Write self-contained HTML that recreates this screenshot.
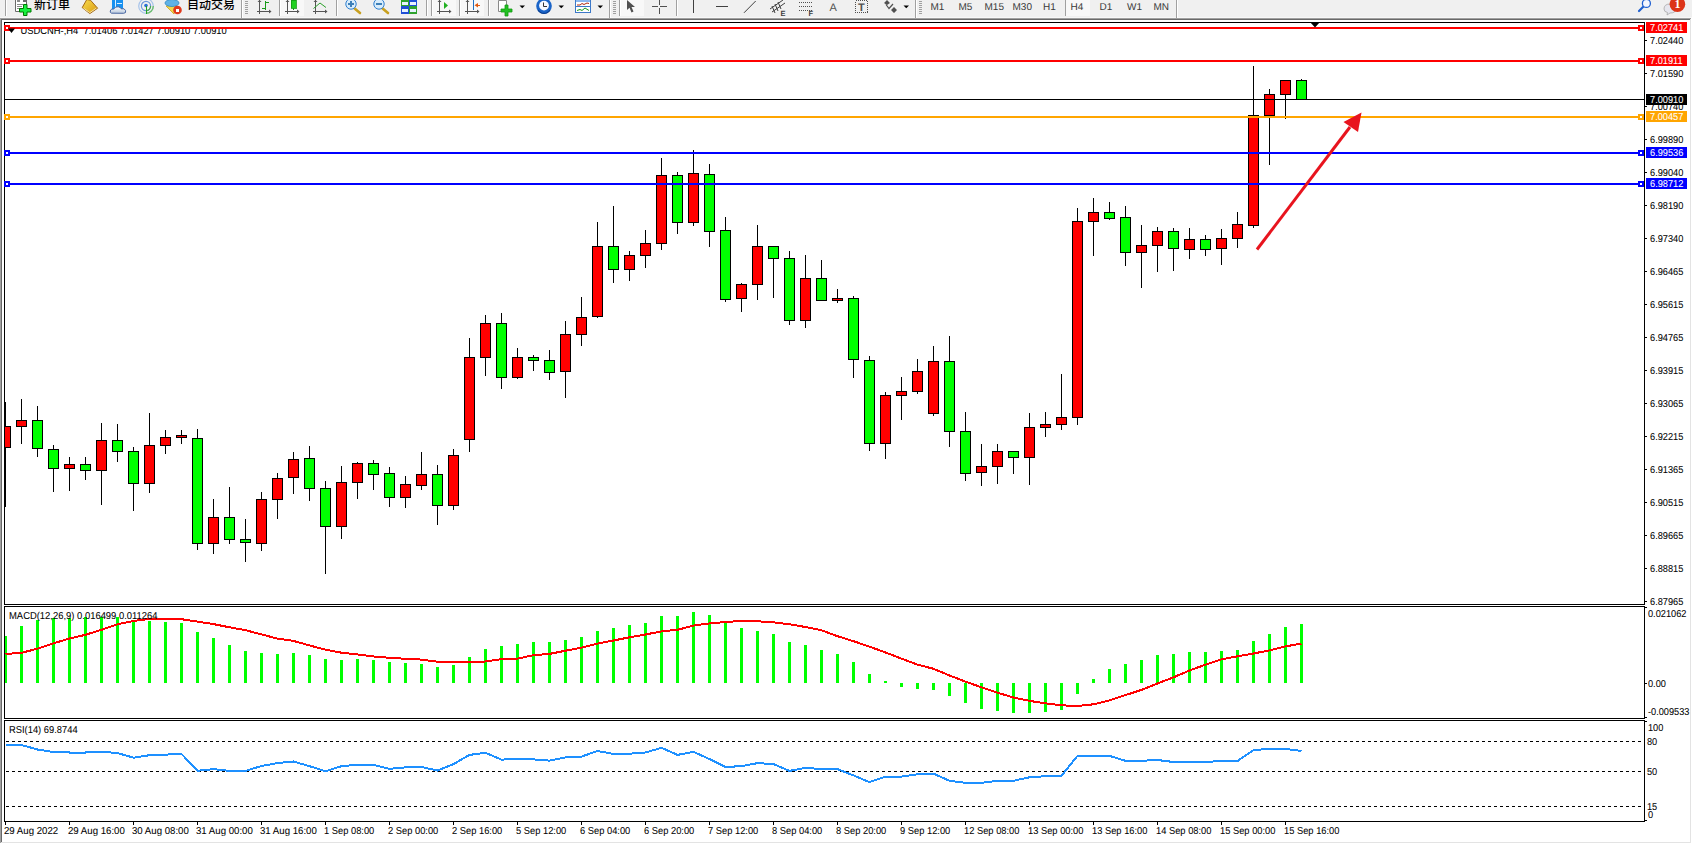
<!DOCTYPE html>
<html><head><meta charset="utf-8"><title>USDCNH-,H4</title>
<style>
html,body{margin:0;padding:0;background:#fff;}
body{width:1692px;height:844px;overflow:hidden;position:relative;}
#tb{position:absolute;left:0;top:0;width:1692px;height:18px;background:#f0f0f0;}
.cj{position:absolute;font-family:'Liberation Sans','Noto Sans CJK SC',sans-serif;font-size:12px;line-height:12px;color:#000;white-space:nowrap;font-weight:500;}
svg{position:absolute;left:0;top:0;}
svg text{white-space:pre;text-rendering:geometricPrecision;}
.tbs rect{shape-rendering:crispEdges;}
</style></head><body>
<div id="tb"></div>
<svg class="tbs" width="1692" height="18" viewBox="0 0 1692 18"><rect x="0" y="17" width="1692" height="1" fill="#f7f7f7"/><rect x="5" y="0" width="1" height="16" fill="#a0a0a0"/><rect x="6" y="0" width="1" height="16" fill="#ffffff"/><path d="M15.5 -2 V11.5 H26.5 V-2" fill="#fff" stroke="#6a6a6a"/><rect x="17" y="0" width="3" height="2" fill="#8a8a8a"/><rect x="23" y="-1" width="3" height="2.5" fill="#6a6a6a"/><rect x="17" y="4" width="6" height="1" fill="#8a8a8a"/><rect x="17" y="6" width="5" height="1" fill="#8a8a8a"/><rect x="17" y="8" width="3" height="1" fill="#8a8a8a"/><path d="M23.5 4.5 h3.5 v4 h4 v3.5 h-4 v3.5 h-3.5 v-3.5 h-4 v-3.5 h4 z" fill="#18f040" stroke="#007a00" stroke-width="1"/><defs><linearGradient id="gold" x1="0" y1="0" x2="1" y2="1"><stop offset="0" stop-color="#f8dc50"/><stop offset="1" stop-color="#d99a10"/></linearGradient><linearGradient id="cloud" x1="0" y1="0" x2="0" y2="1"><stop offset="0" stop-color="#ffffff"/><stop offset="1" stop-color="#b8c8dc"/></linearGradient></defs><path d="M86.8 -0.5 L82.2 7.6 L89.8 13.6 L97.6 8.2 L90.5 0.2 Z" fill="url(#gold)" stroke="#9a5a08" stroke-width="0.9"/><path d="M83.5 8.2 L89.8 12.6 L96.4 8.1" fill="none" stroke="#f5e6b0" stroke-width="0.9"/><rect x="112" y="0" width="11.3" height="9" fill="#1890f0"/><rect x="115" y="0" width="1" height="7" fill="#d8f0ff"/><rect x="117" y="3" width="4.5" height="1" fill="#d8f0ff"/><path d="M111.5 13.2 Q109.3 12.6 110.6 10 Q111.6 8.6 113.6 9.2 Q115 6.3 118.2 6.8 Q120.8 7.2 121.2 8.8 Q124.6 7.8 125.6 10.6 Q126.4 13.2 123.6 13.3 Z" fill="url(#cloud)" stroke="#3a5a9a" stroke-width="0.9"/><circle cx="146" cy="6" r="7.3" fill="none" stroke="#a8c4ea" stroke-width="1.2"/><circle cx="146" cy="6" r="4.6" fill="none" stroke="#6d98dc" stroke-width="1.2"/><path d="M153.3 6 A7.3 7.3 0 0 1 146 13.3" fill="none" stroke="#6cbf6c" stroke-width="1.4"/><path d="M150.6 6 A4.6 4.6 0 0 1 146 10.6" fill="none" stroke="#4aa84a" stroke-width="1.2"/><circle cx="146" cy="5.5" r="1.8" fill="#2b6fd6"/><rect x="146" y="6" width="1.4" height="8" fill="#22a022"/><path d="M166 6 L176 5 L174 14 Z" fill="#f3d54a" stroke="#c9a21c" stroke-width="0.8"/><ellipse cx="172" cy="3" rx="7" ry="3.5" fill="#5fb2e6" stroke="#2f86c2" stroke-width="0.8"/><circle cx="177.5" cy="10" r="4.3" fill="#e03a1c"/><rect x="176" y="8.5" width="3" height="3" fill="#fff"/><rect x="241" y="0" width="1" height="18" fill="#a0a0a0"/><rect x="242" y="0" width="1" height="18" fill="#ffffff"/><rect x="245" y="1" width="3" height="1" fill="#a0a0a0"/><rect x="245" y="3" width="3" height="1" fill="#a0a0a0"/><rect x="245" y="5" width="3" height="1" fill="#a0a0a0"/><rect x="245" y="7" width="3" height="1" fill="#a0a0a0"/><rect x="245" y="9" width="3" height="1" fill="#a0a0a0"/><rect x="245" y="11" width="3" height="1" fill="#a0a0a0"/><rect x="245" y="13" width="3" height="1" fill="#a0a0a0"/><rect x="259" y="0" width="1" height="14" fill="#555"/><rect x="257" y="11" width="12" height="1" fill="#555"/><path d="M269 9.5 L271.5 11.5 L269 13.5 Z" fill="#555"/><path d="M257.5 2 L259.5 0 L261.5 2 Z" fill="#555"/><rect x="265" y="1" width="1" height="9" fill="#1a9a1a"/><rect x="262" y="8" width="3" height="1" fill="#1a9a1a"/><rect x="266" y="2" width="3" height="1" fill="#1a9a1a"/><rect x="279" y="0" width="1" height="16" fill="#a0a0a0"/><rect x="280" y="0" width="1" height="16" fill="#ffffff"/><rect x="281" y="0" width="23" height="16" fill="#f8f8f8"/><rect x="287" y="0" width="1" height="14" fill="#555"/><rect x="285" y="11" width="12" height="1" fill="#555"/><path d="M297 9.5 L299.5 11.5 L297 13.5 Z" fill="#555"/><path d="M285.5 2 L287.5 0 L289.5 2 Z" fill="#555"/><rect x="291" y="0" width="5" height="8" fill="#22d022" stroke="#139813" stroke-width="0.8"/><rect x="293" y="8" width="1" height="2" fill="#139813"/><rect x="315" y="0" width="1" height="14" fill="#555"/><rect x="313" y="11" width="12" height="1" fill="#555"/><path d="M325 9.5 L327.5 11.5 L325 13.5 Z" fill="#555"/><path d="M313.5 2 L315.5 0 L317.5 2 Z" fill="#555"/><path d="M313.5 8.5 L320 3 L326 7.5" fill="none" stroke="#2aa02a" stroke-width="1"/><rect x="336" y="0" width="1" height="16" fill="#a0a0a0"/><rect x="337" y="0" width="1" height="16" fill="#ffffff"/><path d="M354 8 L360 13" stroke="#c8a020" stroke-width="2.6" stroke-linecap="round"/><circle cx="351" cy="4" r="5.2" fill="#d8ecfb" stroke="#2f7fd0" stroke-width="1"/><rect x="348" y="3" width="6" height="2" fill="#3d7fb8"/><rect x="350" y="1" width="2" height="6" fill="#3d7fb8"/><path d="M382 8 L388 13" stroke="#c8a020" stroke-width="2.6" stroke-linecap="round"/><circle cx="379" cy="4" r="5.2" fill="#d8ecfb" stroke="#2f7fd0" stroke-width="1"/><rect x="376" y="3" width="6" height="2" fill="#3d7fb8"/><rect x="401" y="0" width="8" height="6" fill="#2ea22e"/><rect x="409" y="0" width="8" height="6" fill="#1f4fd6"/><rect x="401" y="6" width="8" height="8" fill="#1f4fd6"/><rect x="409" y="6" width="8" height="8" fill="#2ea22e"/><rect x="402" y="2" width="6" height="3" fill="#e8f2ff"/><rect x="410" y="2" width="6" height="3" fill="#e8f2ff"/><rect x="402" y="9" width="6" height="3" fill="#e8f2ff"/><rect x="410" y="9" width="6" height="3" fill="#e8f2ff"/><rect x="426" y="0" width="1" height="16" fill="#a0a0a0"/><rect x="427" y="0" width="1" height="16" fill="#ffffff"/><rect x="431" y="0" width="1" height="16" fill="#a0a0a0"/><rect x="432" y="0" width="1" height="16" fill="#ffffff"/><rect x="433" y="0" width="23" height="16" fill="#f8f8f8"/><rect x="439" y="0" width="1" height="14" fill="#555"/><rect x="437" y="11" width="12" height="1" fill="#555"/><path d="M449 9.5 L451.5 11.5 L449 13.5 Z" fill="#555"/><path d="M437.5 2 L439.5 0 L441.5 2 Z" fill="#555"/><path d="M444 2 L448 5.5 L444 9 Z" fill="#22b022"/><rect x="459" y="0" width="1" height="16" fill="#a0a0a0"/><rect x="460" y="0" width="1" height="16" fill="#ffffff"/><rect x="461" y="0" width="23" height="16" fill="#f8f8f8"/><rect x="467" y="0" width="1" height="14" fill="#555"/><rect x="465" y="11" width="12" height="1" fill="#555"/><path d="M477 9.5 L479.5 11.5 L477 13.5 Z" fill="#555"/><path d="M465.5 2 L467.5 0 L469.5 2 Z" fill="#555"/><rect x="473" y="0" width="1" height="10" fill="#1f6fc0"/><path d="M474.5 5.3 L478 3 L478 7.6 Z" fill="#e05a10"/><rect x="477" y="5" width="3" height="1" fill="#e05a10"/><rect x="488" y="0" width="1" height="16" fill="#a0a0a0"/><rect x="489" y="0" width="1" height="16" fill="#ffffff"/><path d="M498.5 0.5 H506.5 V11.5 H498.5 Z" fill="#fff" stroke="#888"/><path d="M505 5 h3 v4 h4 v3 h-4 v4 h-3 v-4 h-4 v-3 h4 z" fill="#22c022" stroke="#129a12" stroke-width="0.8"/><path d="M519.5 5.5 L525.0 5.5 L522.25 8.3 Z" fill="#000"/><circle cx="544" cy="6" r="7.8" fill="#1a64c8"/><circle cx="544" cy="5.6" r="4.9" fill="#f4f8ff"/><path d="M538 10 A7 7 0 0 0 550 10" fill="none" stroke="#0b3f90" stroke-width="1.2"/><path d="M543.5 2.5 V6.5 H547" fill="none" stroke="#333" stroke-width="1"/><path d="M558.5 5.5 L564.0 5.5 L561.25 8.3 Z" fill="#000"/><rect x="575.5" y="0.5" width="15" height="12" fill="#fff" stroke="#3c78c8"/><rect x="576" y="0" width="14" height="2" fill="#8cb8f0"/><rect x="576" y="6" width="14" height="1" fill="#3c78c8"/><path d="M577 5 L580 5 L582 3.5 L584 4.5 L587 3 L589 3.5" fill="none" stroke="#b02a10" stroke-width="1"/><path d="M577 10.5 L580 9.5 L582 10.5 L585 8 L589 10.5" fill="none" stroke="#1a9a1a" stroke-width="1"/><path d="M597.5 5.5 L603.0 5.5 L600.25 8.3 Z" fill="#000"/><rect x="609" y="0" width="1" height="18" fill="#a0a0a0"/><rect x="610" y="0" width="1" height="18" fill="#ffffff"/><rect x="613" y="1" width="3" height="1" fill="#a0a0a0"/><rect x="613" y="3" width="3" height="1" fill="#a0a0a0"/><rect x="613" y="5" width="3" height="1" fill="#a0a0a0"/><rect x="613" y="7" width="3" height="1" fill="#a0a0a0"/><rect x="613" y="9" width="3" height="1" fill="#a0a0a0"/><rect x="613" y="11" width="3" height="1" fill="#a0a0a0"/><rect x="613" y="13" width="3" height="1" fill="#a0a0a0"/><rect x="619" y="0" width="1" height="16" fill="#a0a0a0"/><rect x="620" y="0" width="1" height="16" fill="#ffffff"/><rect x="621" y="0" width="23" height="16" fill="#f8f8f8"/><path d="M627 0 L627 10 L629.5 7.8 L631.5 12.5 L633.5 11.6 L631.5 7 L635 7 Z" fill="#505050"/><rect x="652" y="6" width="6" height="1" fill="#505050"/><rect x="660" y="6" width="7" height="1" fill="#505050"/><rect x="659" y="0" width="1" height="5" fill="#505050"/><rect x="659" y="8" width="1" height="6" fill="#505050"/><rect x="676" y="0" width="1" height="16" fill="#a0a0a0"/><rect x="677" y="0" width="1" height="16" fill="#ffffff"/><rect x="693" y="0" width="1" height="13" fill="#404040"/><rect x="716" y="6" width="12" height="1" fill="#404040"/><path d="M744 12.8 L755.7 1" stroke="#404040" stroke-width="1"/><path d="M770 9 L783 0 M772 12 L785 3 M772 6 L775 13 M775 4 L778 11 M778 2 L781 9" stroke="#404040" stroke-width="1"/><text x="780.5" y="15.5" font-family="'Liberation Sans', Arial, sans-serif" font-size="7.5" font-weight="bold" fill="#404040">E</text><line x1="799" y1="2.5" x2="812" y2="2.5" stroke="#505050" stroke-dasharray="1,1"/><line x1="799" y1="6.5" x2="812" y2="6.5" stroke="#505050" stroke-dasharray="1,1"/><line x1="799" y1="10.5" x2="812" y2="10.5" stroke="#505050" stroke-dasharray="1,1"/><text x="808.5" y="15.5" font-family="'Liberation Sans', Arial, sans-serif" font-size="7.5" font-weight="bold" fill="#404040">F</text><text x="829.5" y="11" font-family="'Liberation Sans', Arial, sans-serif" font-size="11" fill="#505050">A</text><rect x="855.5" y="0.5" width="12" height="12" fill="none" stroke="#505050" stroke-dasharray="1,1"/><text x="858" y="10.5" font-family="'Liberation Sans', Arial, sans-serif" font-size="11" font-weight="bold" fill="#505050">T</text><path d="M884 3 L887 0 L890 3 L887 5 Z M891 10 L894 7 L897 10 L894 13 Z" fill="#505050"/><path d="M886 4.5 L889 8.5 L893 4" fill="none" stroke="#505050" stroke-width="1.2"/><path d="M903.5 5.5 L909.0 5.5 L906.25 8.3 Z" fill="#000"/><rect x="915" y="0" width="1" height="18" fill="#a0a0a0"/><rect x="916" y="0" width="1" height="18" fill="#ffffff"/><rect x="919" y="1" width="3" height="1" fill="#a0a0a0"/><rect x="919" y="3" width="3" height="1" fill="#a0a0a0"/><rect x="919" y="5" width="3" height="1" fill="#a0a0a0"/><rect x="919" y="7" width="3" height="1" fill="#a0a0a0"/><rect x="919" y="9" width="3" height="1" fill="#a0a0a0"/><rect x="919" y="11" width="3" height="1" fill="#a0a0a0"/><rect x="919" y="13" width="3" height="1" fill="#a0a0a0"/><rect x="1065" y="0" width="1" height="16" fill="#a0a0a0"/><rect x="1066" y="0" width="1" height="16" fill="#ffffff"/><rect x="1066" y="0" width="24" height="16" fill="#f8f8f8"/><text x="930.5" y="10" font-family="'Liberation Sans', Arial, sans-serif" font-size="10" fill="#3a3a3a">M1</text><text x="958.5" y="10" font-family="'Liberation Sans', Arial, sans-serif" font-size="10" fill="#3a3a3a">M5</text><text x="984.5" y="10" font-family="'Liberation Sans', Arial, sans-serif" font-size="10" fill="#3a3a3a">M15</text><text x="1012.5" y="10" font-family="'Liberation Sans', Arial, sans-serif" font-size="10" fill="#3a3a3a">M30</text><text x="1043" y="10" font-family="'Liberation Sans', Arial, sans-serif" font-size="10" fill="#3a3a3a">H1</text><text x="1070.5" y="10" font-family="'Liberation Sans', Arial, sans-serif" font-size="10" fill="#3a3a3a">H4</text><text x="1099.5" y="10" font-family="'Liberation Sans', Arial, sans-serif" font-size="10" fill="#3a3a3a">D1</text><text x="1127" y="10" font-family="'Liberation Sans', Arial, sans-serif" font-size="10" fill="#3a3a3a">W1</text><text x="1153.5" y="10" font-family="'Liberation Sans', Arial, sans-serif" font-size="10" fill="#3a3a3a">MN</text><rect x="1176" y="0" width="1" height="18" fill="#a0a0a0"/><rect x="1177" y="0" width="1" height="18" fill="#ffffff"/><path d="M1643.5 6.5 L1639 11" stroke="#2060d0" stroke-width="2.2" stroke-linecap="round"/><circle cx="1646.4" cy="3.4" r="4" fill="#f4f6ff" stroke="#2060d0" stroke-width="1.3"/><path d="M1664 9 Q1664 4 1670 4 Q1676 4 1676 9 Q1676 13 1670 13 L1667 15 L1667.5 12.5 Q1664 12 1664 9 Z" fill="#e6e6ee" stroke="#a8a8a8" stroke-width="0.8"/><circle cx="1677.4" cy="4.2" r="7.8" fill="#dc3418"/><text x="1677.4" y="8" text-anchor="middle" font-family="'Liberation Serif', serif" font-size="12" font-weight="bold" fill="#fff">1</text></svg>
<div class="cj" style="left:34px;top:-1px;">新订单</div>
<div class="cj" style="left:187px;top:-1px;">自动交易</div>

<svg width="1692" height="844" viewBox="0 0 1692 844" shape-rendering="crispEdges" style="top:0;left:0"><rect x="0" y="18" width="1691" height="1" fill="#a0a0a0"/><rect x="0" y="18" width="1" height="825" fill="#a0a0a0"/><rect x="1" y="19" width="1689" height="1" fill="#696969"/><rect x="1" y="19" width="1" height="823" fill="#696969"/><rect x="1690" y="19" width="1" height="824" fill="#e3e3e3"/><rect x="1" y="842" width="1690" height="1" fill="#e3e3e3"/><rect x="1691" y="18" width="1" height="826" fill="#ffffff"/><rect x="0" y="843" width="1692" height="1" fill="#ffffff"/><defs><clipPath id="cm"><rect x="5" y="23" width="1639" height="581"/></clipPath><clipPath id="cmacd"><rect x="5" y="607" width="1639" height="111"/></clipPath><clipPath id="crsi"><rect x="5" y="721" width="1639" height="100"/></clipPath></defs><g clip-path="url(#cm)"><rect x="5" y="402" width="1" height="105" fill="#000"/><rect x="0" y="426" width="11" height="22" fill="#000"/><rect x="1" y="427" width="9" height="20" fill="#ff0000"/><rect x="21" y="399" width="1" height="45" fill="#000"/><rect x="16" y="420" width="11" height="7" fill="#000"/><rect x="17" y="421" width="9" height="5" fill="#ff0000"/><rect x="37" y="406" width="1" height="51" fill="#000"/><rect x="32" y="420" width="11" height="29" fill="#000"/><rect x="33" y="421" width="9" height="27" fill="#00ff00"/><rect x="53" y="445" width="1" height="47" fill="#000"/><rect x="48" y="449" width="11" height="20" fill="#000"/><rect x="49" y="450" width="9" height="18" fill="#00ff00"/><rect x="69" y="457" width="1" height="34" fill="#000"/><rect x="64" y="464" width="11" height="5" fill="#000"/><rect x="65" y="465" width="9" height="3" fill="#ff0000"/><rect x="85" y="457" width="1" height="23" fill="#000"/><rect x="80" y="464" width="11" height="7" fill="#000"/><rect x="81" y="465" width="9" height="5" fill="#00ff00"/><rect x="101" y="423" width="1" height="82" fill="#000"/><rect x="96" y="440" width="11" height="31" fill="#000"/><rect x="97" y="441" width="9" height="29" fill="#ff0000"/><rect x="117" y="424" width="1" height="38" fill="#000"/><rect x="112" y="440" width="11" height="12" fill="#000"/><rect x="113" y="441" width="9" height="10" fill="#00ff00"/><rect x="133" y="447" width="1" height="64" fill="#000"/><rect x="128" y="451" width="11" height="33" fill="#000"/><rect x="129" y="452" width="9" height="31" fill="#00ff00"/><rect x="149" y="413" width="1" height="80" fill="#000"/><rect x="144" y="445" width="11" height="39" fill="#000"/><rect x="145" y="446" width="9" height="37" fill="#ff0000"/><rect x="165" y="430" width="1" height="24" fill="#000"/><rect x="160" y="437" width="11" height="9" fill="#000"/><rect x="161" y="438" width="9" height="7" fill="#ff0000"/><rect x="181" y="430" width="1" height="14" fill="#000"/><rect x="176" y="435" width="11" height="3" fill="#000"/><rect x="177" y="436" width="9" height="1" fill="#ff0000"/><rect x="197" y="429" width="1" height="121" fill="#000"/><rect x="192" y="438" width="11" height="106" fill="#000"/><rect x="193" y="439" width="9" height="104" fill="#00ff00"/><rect x="213" y="499" width="1" height="55" fill="#000"/><rect x="208" y="517" width="11" height="27" fill="#000"/><rect x="209" y="518" width="9" height="25" fill="#ff0000"/><rect x="229" y="487" width="1" height="57" fill="#000"/><rect x="224" y="517" width="11" height="23" fill="#000"/><rect x="225" y="518" width="9" height="21" fill="#00ff00"/><rect x="245" y="519" width="1" height="43" fill="#000"/><rect x="240" y="539" width="11" height="4" fill="#000"/><rect x="241" y="540" width="9" height="2" fill="#00ff00"/><rect x="261" y="492" width="1" height="59" fill="#000"/><rect x="256" y="499" width="11" height="45" fill="#000"/><rect x="257" y="500" width="9" height="43" fill="#ff0000"/><rect x="277" y="473" width="1" height="46" fill="#000"/><rect x="272" y="478" width="11" height="22" fill="#000"/><rect x="273" y="479" width="9" height="20" fill="#ff0000"/><rect x="293" y="452" width="1" height="42" fill="#000"/><rect x="288" y="459" width="11" height="19" fill="#000"/><rect x="289" y="460" width="9" height="17" fill="#ff0000"/><rect x="309" y="446" width="1" height="55" fill="#000"/><rect x="304" y="458" width="11" height="31" fill="#000"/><rect x="305" y="459" width="9" height="29" fill="#00ff00"/><rect x="325" y="481" width="1" height="93" fill="#000"/><rect x="320" y="488" width="11" height="39" fill="#000"/><rect x="321" y="489" width="9" height="37" fill="#00ff00"/><rect x="341" y="466" width="1" height="73" fill="#000"/><rect x="336" y="482" width="11" height="45" fill="#000"/><rect x="337" y="483" width="9" height="43" fill="#ff0000"/><rect x="357" y="462" width="1" height="37" fill="#000"/><rect x="352" y="463" width="11" height="20" fill="#000"/><rect x="353" y="464" width="9" height="18" fill="#ff0000"/><rect x="373" y="460" width="1" height="30" fill="#000"/><rect x="368" y="463" width="11" height="12" fill="#000"/><rect x="369" y="464" width="9" height="10" fill="#00ff00"/><rect x="389" y="467" width="1" height="40" fill="#000"/><rect x="384" y="473" width="11" height="25" fill="#000"/><rect x="385" y="474" width="9" height="23" fill="#00ff00"/><rect x="405" y="476" width="1" height="32" fill="#000"/><rect x="400" y="484" width="11" height="14" fill="#000"/><rect x="401" y="485" width="9" height="12" fill="#ff0000"/><rect x="421" y="452" width="1" height="38" fill="#000"/><rect x="416" y="474" width="11" height="12" fill="#000"/><rect x="417" y="475" width="9" height="10" fill="#ff0000"/><rect x="437" y="465" width="1" height="60" fill="#000"/><rect x="432" y="474" width="11" height="32" fill="#000"/><rect x="433" y="475" width="9" height="30" fill="#00ff00"/><rect x="453" y="449" width="1" height="61" fill="#000"/><rect x="448" y="455" width="11" height="51" fill="#000"/><rect x="449" y="456" width="9" height="49" fill="#ff0000"/><rect x="469" y="338" width="1" height="114" fill="#000"/><rect x="464" y="357" width="11" height="83" fill="#000"/><rect x="465" y="358" width="9" height="81" fill="#ff0000"/><rect x="485" y="315" width="1" height="61" fill="#000"/><rect x="480" y="323" width="11" height="35" fill="#000"/><rect x="481" y="324" width="9" height="33" fill="#ff0000"/><rect x="501" y="313" width="1" height="76" fill="#000"/><rect x="496" y="323" width="11" height="55" fill="#000"/><rect x="497" y="324" width="9" height="53" fill="#00ff00"/><rect x="517" y="348" width="1" height="31" fill="#000"/><rect x="512" y="357" width="11" height="21" fill="#000"/><rect x="513" y="358" width="9" height="19" fill="#ff0000"/><rect x="533" y="355" width="1" height="16" fill="#000"/><rect x="528" y="357" width="11" height="4" fill="#000"/><rect x="529" y="358" width="9" height="2" fill="#00ff00"/><rect x="549" y="350" width="1" height="30" fill="#000"/><rect x="544" y="360" width="11" height="13" fill="#000"/><rect x="545" y="361" width="9" height="11" fill="#00ff00"/><rect x="565" y="321" width="1" height="77" fill="#000"/><rect x="560" y="334" width="11" height="38" fill="#000"/><rect x="561" y="335" width="9" height="36" fill="#ff0000"/><rect x="581" y="297" width="1" height="49" fill="#000"/><rect x="576" y="317" width="11" height="18" fill="#000"/><rect x="577" y="318" width="9" height="16" fill="#ff0000"/><rect x="597" y="222" width="1" height="96" fill="#000"/><rect x="592" y="246" width="11" height="71" fill="#000"/><rect x="593" y="247" width="9" height="69" fill="#ff0000"/><rect x="613" y="206" width="1" height="77" fill="#000"/><rect x="608" y="246" width="11" height="24" fill="#000"/><rect x="609" y="247" width="9" height="22" fill="#00ff00"/><rect x="629" y="251" width="1" height="30" fill="#000"/><rect x="624" y="255" width="11" height="15" fill="#000"/><rect x="625" y="256" width="9" height="13" fill="#ff0000"/><rect x="645" y="230" width="1" height="38" fill="#000"/><rect x="640" y="243" width="11" height="13" fill="#000"/><rect x="641" y="244" width="9" height="11" fill="#ff0000"/><rect x="661" y="158" width="1" height="92" fill="#000"/><rect x="656" y="175" width="11" height="69" fill="#000"/><rect x="657" y="176" width="9" height="67" fill="#ff0000"/><rect x="677" y="172" width="1" height="62" fill="#000"/><rect x="672" y="175" width="11" height="48" fill="#000"/><rect x="673" y="176" width="9" height="46" fill="#00ff00"/><rect x="693" y="150" width="1" height="76" fill="#000"/><rect x="688" y="173" width="11" height="50" fill="#000"/><rect x="689" y="174" width="9" height="48" fill="#ff0000"/><rect x="709" y="164" width="1" height="83" fill="#000"/><rect x="704" y="174" width="11" height="58" fill="#000"/><rect x="705" y="175" width="9" height="56" fill="#00ff00"/><rect x="725" y="217" width="1" height="85" fill="#000"/><rect x="720" y="230" width="11" height="70" fill="#000"/><rect x="721" y="231" width="9" height="68" fill="#00ff00"/><rect x="741" y="283" width="1" height="29" fill="#000"/><rect x="736" y="284" width="11" height="15" fill="#000"/><rect x="737" y="285" width="9" height="13" fill="#ff0000"/><rect x="757" y="225" width="1" height="75" fill="#000"/><rect x="752" y="246" width="11" height="39" fill="#000"/><rect x="753" y="247" width="9" height="37" fill="#ff0000"/><rect x="773" y="246" width="1" height="52" fill="#000"/><rect x="768" y="246" width="11" height="13" fill="#000"/><rect x="769" y="247" width="9" height="11" fill="#00ff00"/><rect x="789" y="251" width="1" height="74" fill="#000"/><rect x="784" y="258" width="11" height="63" fill="#000"/><rect x="785" y="259" width="9" height="61" fill="#00ff00"/><rect x="805" y="255" width="1" height="73" fill="#000"/><rect x="800" y="278" width="11" height="43" fill="#000"/><rect x="801" y="279" width="9" height="41" fill="#ff0000"/><rect x="821" y="260" width="1" height="41" fill="#000"/><rect x="816" y="278" width="11" height="23" fill="#000"/><rect x="817" y="279" width="9" height="21" fill="#00ff00"/><rect x="837" y="289" width="1" height="14" fill="#000"/><rect x="832" y="298" width="11" height="3" fill="#000"/><rect x="833" y="299" width="9" height="1" fill="#ff0000"/><rect x="853" y="296" width="1" height="82" fill="#000"/><rect x="848" y="298" width="11" height="62" fill="#000"/><rect x="849" y="299" width="9" height="60" fill="#00ff00"/><rect x="869" y="356" width="1" height="95" fill="#000"/><rect x="864" y="360" width="11" height="84" fill="#000"/><rect x="865" y="361" width="9" height="82" fill="#00ff00"/><rect x="885" y="392" width="1" height="67" fill="#000"/><rect x="880" y="395" width="11" height="49" fill="#000"/><rect x="881" y="396" width="9" height="47" fill="#ff0000"/><rect x="901" y="377" width="1" height="43" fill="#000"/><rect x="896" y="391" width="11" height="5" fill="#000"/><rect x="897" y="392" width="9" height="3" fill="#ff0000"/><rect x="917" y="359" width="1" height="35" fill="#000"/><rect x="912" y="371" width="11" height="21" fill="#000"/><rect x="913" y="372" width="9" height="19" fill="#ff0000"/><rect x="933" y="346" width="1" height="70" fill="#000"/><rect x="928" y="361" width="11" height="53" fill="#000"/><rect x="929" y="362" width="9" height="51" fill="#ff0000"/><rect x="949" y="336" width="1" height="111" fill="#000"/><rect x="944" y="361" width="11" height="71" fill="#000"/><rect x="945" y="362" width="9" height="69" fill="#00ff00"/><rect x="965" y="412" width="1" height="69" fill="#000"/><rect x="960" y="431" width="11" height="43" fill="#000"/><rect x="961" y="432" width="9" height="41" fill="#00ff00"/><rect x="981" y="444" width="1" height="42" fill="#000"/><rect x="976" y="466" width="11" height="7" fill="#000"/><rect x="977" y="467" width="9" height="5" fill="#ff0000"/><rect x="997" y="444" width="1" height="40" fill="#000"/><rect x="992" y="451" width="11" height="16" fill="#000"/><rect x="993" y="452" width="9" height="14" fill="#ff0000"/><rect x="1013" y="451" width="1" height="23" fill="#000"/><rect x="1008" y="451" width="11" height="7" fill="#000"/><rect x="1009" y="452" width="9" height="5" fill="#00ff00"/><rect x="1029" y="413" width="1" height="72" fill="#000"/><rect x="1024" y="427" width="11" height="31" fill="#000"/><rect x="1025" y="428" width="9" height="29" fill="#ff0000"/><rect x="1045" y="412" width="1" height="25" fill="#000"/><rect x="1040" y="424" width="11" height="4" fill="#000"/><rect x="1041" y="425" width="9" height="2" fill="#ff0000"/><rect x="1061" y="374" width="1" height="56" fill="#000"/><rect x="1056" y="417" width="11" height="8" fill="#000"/><rect x="1057" y="418" width="9" height="6" fill="#ff0000"/><rect x="1077" y="208" width="1" height="217" fill="#000"/><rect x="1072" y="221" width="11" height="197" fill="#000"/><rect x="1073" y="222" width="9" height="195" fill="#ff0000"/><rect x="1093" y="198" width="1" height="58" fill="#000"/><rect x="1088" y="212" width="11" height="10" fill="#000"/><rect x="1089" y="213" width="9" height="8" fill="#ff0000"/><rect x="1109" y="202" width="1" height="18" fill="#000"/><rect x="1104" y="212" width="11" height="7" fill="#000"/><rect x="1105" y="213" width="9" height="5" fill="#00ff00"/><rect x="1125" y="206" width="1" height="60" fill="#000"/><rect x="1120" y="217" width="11" height="36" fill="#000"/><rect x="1121" y="218" width="9" height="34" fill="#00ff00"/><rect x="1141" y="225" width="1" height="63" fill="#000"/><rect x="1136" y="245" width="11" height="8" fill="#000"/><rect x="1137" y="246" width="9" height="6" fill="#ff0000"/><rect x="1157" y="227" width="1" height="45" fill="#000"/><rect x="1152" y="231" width="11" height="15" fill="#000"/><rect x="1153" y="232" width="9" height="13" fill="#ff0000"/><rect x="1173" y="228" width="1" height="43" fill="#000"/><rect x="1168" y="231" width="11" height="18" fill="#000"/><rect x="1169" y="232" width="9" height="16" fill="#00ff00"/><rect x="1189" y="228" width="1" height="31" fill="#000"/><rect x="1184" y="239" width="11" height="11" fill="#000"/><rect x="1185" y="240" width="9" height="9" fill="#ff0000"/><rect x="1205" y="235" width="1" height="21" fill="#000"/><rect x="1200" y="239" width="11" height="11" fill="#000"/><rect x="1201" y="240" width="9" height="9" fill="#00ff00"/><rect x="1221" y="229" width="1" height="36" fill="#000"/><rect x="1216" y="238" width="11" height="11" fill="#000"/><rect x="1217" y="239" width="9" height="9" fill="#ff0000"/><rect x="1237" y="212" width="1" height="36" fill="#000"/><rect x="1232" y="224" width="11" height="15" fill="#000"/><rect x="1233" y="225" width="9" height="13" fill="#ff0000"/><rect x="1253" y="66" width="1" height="162" fill="#000"/><rect x="1248" y="115" width="11" height="111" fill="#000"/><rect x="1249" y="116" width="9" height="109" fill="#ff0000"/><rect x="1269" y="89" width="1" height="76" fill="#000"/><rect x="1264" y="94" width="11" height="22" fill="#000"/><rect x="1265" y="95" width="9" height="20" fill="#ff0000"/><rect x="1285" y="80" width="1" height="39" fill="#000"/><rect x="1280" y="80" width="11" height="15" fill="#000"/><rect x="1281" y="81" width="9" height="13" fill="#ff0000"/><rect x="1301" y="79" width="1" height="21" fill="#000"/><rect x="1296" y="80" width="11" height="20" fill="#000"/><rect x="1297" y="81" width="9" height="18" fill="#00ff00"/></g><g font-family="'Liberation Sans', Arial, sans-serif" font-size="10"><text transform="translate(20.5,34) scale(0.937,1)" fill="#000" stroke="#000" stroke-width="0.06">USDCNH-,H4  7.01406 7.01427 7.00910 7.00910</text></g><rect x="5" y="99" width="1639" height="1" fill="#000"/><rect x="5" y="27" width="1639" height="2" fill="#ff0000"/><rect x="5" y="60" width="1639" height="2" fill="#ff0000"/><rect x="5" y="116" width="1639" height="2" fill="#ffa500"/><rect x="5" y="152" width="1639" height="2" fill="#0000ff"/><rect x="5" y="183" width="1639" height="2" fill="#0000ff"/><rect x="4" y="22" width="1641" height="1" fill="#000"/><rect x="4" y="604" width="1641" height="1" fill="#000"/><rect x="4" y="22" width="1" height="583" fill="#000"/><rect x="1644" y="22" width="1" height="583" fill="#000"/><rect x="4" y="606" width="1641" height="1" fill="#000"/><rect x="4" y="718" width="1641" height="1" fill="#000"/><rect x="4" y="606" width="1" height="113" fill="#000"/><rect x="1644" y="606" width="1" height="113" fill="#000"/><rect x="4" y="720" width="1641" height="1" fill="#000"/><rect x="4" y="821" width="1641" height="1" fill="#000"/><rect x="4" y="720" width="1" height="102" fill="#000"/><rect x="1644" y="720" width="1" height="102" fill="#000"/><rect x="4" y="25" width="6" height="6" fill="#ff0000"/><rect x="6" y="27" width="2" height="2" fill="#fff"/><rect x="1638" y="25" width="6" height="6" fill="#ff0000"/><rect x="1640" y="27" width="2" height="2" fill="#fff"/><rect x="4" y="58" width="6" height="6" fill="#ff0000"/><rect x="6" y="60" width="2" height="2" fill="#fff"/><rect x="1638" y="58" width="6" height="6" fill="#ff0000"/><rect x="1640" y="60" width="2" height="2" fill="#fff"/><rect x="4" y="114" width="6" height="6" fill="#ffa500"/><rect x="6" y="116" width="2" height="2" fill="#fff"/><rect x="1638" y="114" width="6" height="6" fill="#ffa500"/><rect x="1640" y="116" width="2" height="2" fill="#fff"/><rect x="4" y="150" width="6" height="6" fill="#0000ff"/><rect x="6" y="152" width="2" height="2" fill="#fff"/><rect x="1638" y="150" width="6" height="6" fill="#0000ff"/><rect x="1640" y="152" width="2" height="2" fill="#fff"/><rect x="4" y="181" width="6" height="6" fill="#0000ff"/><rect x="6" y="183" width="2" height="2" fill="#fff"/><rect x="1638" y="181" width="6" height="6" fill="#0000ff"/><rect x="1640" y="183" width="2" height="2" fill="#fff"/><path d="M1310 22 L1320 22 L1315 27.5 Z" fill="#000" shape-rendering="geometricPrecision"/><g clip-path="url(#cmacd)"><rect x="4" y="636" width="3" height="47" fill="#00ff00"/><rect x="20" y="626" width="3" height="57" fill="#00ff00"/><rect x="36" y="620" width="3" height="63" fill="#00ff00"/><rect x="52" y="618" width="3" height="65" fill="#00ff00"/><rect x="68" y="618" width="3" height="65" fill="#00ff00"/><rect x="84" y="617" width="3" height="66" fill="#00ff00"/><rect x="100" y="617" width="3" height="66" fill="#00ff00"/><rect x="116" y="617" width="3" height="66" fill="#00ff00"/><rect x="132" y="620" width="3" height="63" fill="#00ff00"/><rect x="148" y="621" width="3" height="62" fill="#00ff00"/><rect x="164" y="622" width="3" height="61" fill="#00ff00"/><rect x="180" y="623" width="3" height="60" fill="#00ff00"/><rect x="196" y="632" width="3" height="51" fill="#00ff00"/><rect x="212" y="638" width="3" height="45" fill="#00ff00"/><rect x="228" y="645" width="3" height="38" fill="#00ff00"/><rect x="244" y="651" width="3" height="32" fill="#00ff00"/><rect x="260" y="653" width="3" height="30" fill="#00ff00"/><rect x="276" y="654" width="3" height="29" fill="#00ff00"/><rect x="292" y="653" width="3" height="30" fill="#00ff00"/><rect x="308" y="655" width="3" height="28" fill="#00ff00"/><rect x="324" y="659" width="3" height="24" fill="#00ff00"/><rect x="340" y="660" width="3" height="23" fill="#00ff00"/><rect x="356" y="659" width="3" height="24" fill="#00ff00"/><rect x="372" y="660" width="3" height="23" fill="#00ff00"/><rect x="388" y="662" width="3" height="21" fill="#00ff00"/><rect x="404" y="663" width="3" height="20" fill="#00ff00"/><rect x="420" y="664" width="3" height="19" fill="#00ff00"/><rect x="436" y="667" width="3" height="16" fill="#00ff00"/><rect x="452" y="665" width="3" height="18" fill="#00ff00"/><rect x="468" y="657" width="3" height="26" fill="#00ff00"/><rect x="484" y="649" width="3" height="34" fill="#00ff00"/><rect x="500" y="646" width="3" height="37" fill="#00ff00"/><rect x="516" y="644" width="3" height="39" fill="#00ff00"/><rect x="532" y="642" width="3" height="41" fill="#00ff00"/><rect x="548" y="642" width="3" height="41" fill="#00ff00"/><rect x="564" y="640" width="3" height="43" fill="#00ff00"/><rect x="580" y="637" width="3" height="46" fill="#00ff00"/><rect x="596" y="631" width="3" height="52" fill="#00ff00"/><rect x="612" y="628" width="3" height="55" fill="#00ff00"/><rect x="628" y="625" width="3" height="58" fill="#00ff00"/><rect x="644" y="623" width="3" height="60" fill="#00ff00"/><rect x="660" y="616" width="3" height="67" fill="#00ff00"/><rect x="676" y="616" width="3" height="67" fill="#00ff00"/><rect x="692" y="612" width="3" height="71" fill="#00ff00"/><rect x="708" y="615" width="3" height="68" fill="#00ff00"/><rect x="724" y="623" width="3" height="60" fill="#00ff00"/><rect x="740" y="628" width="3" height="55" fill="#00ff00"/><rect x="756" y="631" width="3" height="52" fill="#00ff00"/><rect x="772" y="634" width="3" height="49" fill="#00ff00"/><rect x="788" y="642" width="3" height="41" fill="#00ff00"/><rect x="804" y="645" width="3" height="38" fill="#00ff00"/><rect x="820" y="650" width="3" height="33" fill="#00ff00"/><rect x="836" y="654" width="3" height="29" fill="#00ff00"/><rect x="852" y="662" width="3" height="21" fill="#00ff00"/><rect x="868" y="674" width="3" height="9" fill="#00ff00"/><rect x="884" y="681" width="3" height="2" fill="#00ff00"/><rect x="900" y="683" width="3" height="4" fill="#00ff00"/><rect x="916" y="683" width="3" height="6" fill="#00ff00"/><rect x="932" y="683" width="3" height="7" fill="#00ff00"/><rect x="948" y="683" width="3" height="13" fill="#00ff00"/><rect x="964" y="683" width="3" height="20" fill="#00ff00"/><rect x="980" y="683" width="3" height="26" fill="#00ff00"/><rect x="996" y="683" width="3" height="28" fill="#00ff00"/><rect x="1012" y="683" width="3" height="30" fill="#00ff00"/><rect x="1028" y="683" width="3" height="30" fill="#00ff00"/><rect x="1044" y="683" width="3" height="29" fill="#00ff00"/><rect x="1060" y="683" width="3" height="27" fill="#00ff00"/><rect x="1076" y="683" width="3" height="11" fill="#00ff00"/><rect x="1092" y="679" width="3" height="4" fill="#00ff00"/><rect x="1108" y="669" width="3" height="14" fill="#00ff00"/><rect x="1124" y="664" width="3" height="19" fill="#00ff00"/><rect x="1140" y="660" width="3" height="23" fill="#00ff00"/><rect x="1156" y="655" width="3" height="28" fill="#00ff00"/><rect x="1172" y="654" width="3" height="29" fill="#00ff00"/><rect x="1188" y="652" width="3" height="31" fill="#00ff00"/><rect x="1204" y="652" width="3" height="31" fill="#00ff00"/><rect x="1220" y="651" width="3" height="32" fill="#00ff00"/><rect x="1236" y="650" width="3" height="33" fill="#00ff00"/><rect x="1252" y="641" width="3" height="42" fill="#00ff00"/><rect x="1268" y="634" width="3" height="49" fill="#00ff00"/><rect x="1284" y="627" width="3" height="56" fill="#00ff00"/><rect x="1300" y="624" width="3" height="59" fill="#00ff00"/><polyline points="5.5,654.0 21.5,652.8 37.5,648.7 53.5,643.3 69.5,638.5 85.5,634.8 101.5,629.8 117.5,624.3 133.5,621.0 149.5,618.9 165.5,618.9 181.5,619.2 197.5,621.6 213.5,624.1 229.5,627.3 245.5,630.2 261.5,634.4 277.5,638.6 293.5,640.9 309.5,645.4 325.5,649.7 341.5,652.7 357.5,654.4 373.5,656.5 389.5,657.8 405.5,658.8 421.5,659.6 437.5,661.7 453.5,661.7 469.5,662.0 485.5,661.5 501.5,659.2 517.5,658.6 533.5,655.2 549.5,653.9 565.5,650.7 581.5,647.6 597.5,643.6 613.5,640.5 629.5,637.3 645.5,634.5 661.5,631.4 677.5,629.8 693.5,625.6 709.5,623.4 725.5,622.0 741.5,620.9 757.5,621.3 773.5,622.3 789.5,624.3 805.5,627.0 821.5,630.2 837.5,636.2 853.5,641.2 869.5,646.6 885.5,652.5 901.5,658.6 917.5,664.6 933.5,668.8 949.5,675.5 965.5,681.6 981.5,687.3 997.5,692.7 1013.5,697.5 1029.5,700.9 1045.5,703.3 1061.5,705.3 1077.5,706.0 1093.5,704.3 1109.5,700.3 1125.5,695.1 1141.5,689.9 1157.5,683.5 1173.5,677.3 1189.5,670.5 1205.5,664.6 1221.5,659.3 1237.5,656.3 1253.5,653.5 1269.5,650.4 1285.5,646.4 1301.5,643.6" fill="none" stroke="#ff0000" stroke-width="2"/></g><line x1="6" y1="741.5" x2="1643" y2="741.5" stroke="#000" stroke-width="1" stroke-dasharray="3,3"/><line x1="6" y1="771.5" x2="1643" y2="771.5" stroke="#000" stroke-width="1" stroke-dasharray="3,3"/><line x1="6" y1="806.5" x2="1643" y2="806.5" stroke="#000" stroke-width="1" stroke-dasharray="3,3"/><g clip-path="url(#crsi)"><polyline points="5.5,745.0 21.5,745.0 37.5,749.5 53.5,752.0 69.5,752.5 85.5,752.5 101.5,751.8 117.5,753.0 133.5,757.7 149.5,755.2 165.5,754.6 181.5,753.9 197.5,770.8 213.5,769.1 229.5,770.9 245.5,770.9 261.5,766.0 277.5,763.1 293.5,761.5 309.5,766.2 325.5,771.2 341.5,766.2 357.5,764.8 373.5,764.8 389.5,768.8 405.5,767.4 421.5,767.0 437.5,770.5 453.5,764.1 469.5,754.9 485.5,752.8 501.5,759.6 517.5,759.1 533.5,759.4 549.5,760.6 565.5,757.4 581.5,756.6 597.5,751.0 613.5,753.9 629.5,753.7 645.5,752.5 661.5,747.8 677.5,754.9 693.5,751.9 709.5,759.1 725.5,766.9 741.5,766.2 757.5,763.1 773.5,764.1 789.5,770.9 805.5,767.9 821.5,769.1 837.5,769.1 853.5,775.4 869.5,782.1 885.5,776.6 901.5,776.6 917.5,774.3 933.5,773.7 949.5,780.8 965.5,782.8 981.5,782.8 997.5,780.8 1013.5,780.8 1029.5,777.3 1045.5,776.2 1061.5,775.7 1077.5,755.9 1093.5,755.9 1109.5,755.9 1125.5,760.8 1141.5,760.8 1157.5,760.0 1173.5,762.0 1189.5,762.0 1205.5,762.0 1221.5,761.0 1237.5,761.0 1253.5,750.1 1269.5,748.9 1285.5,748.9 1301.5,751.0" fill="none" stroke="#1e90ff" stroke-width="2"/></g><g shape-rendering="geometricPrecision"><line x1="1257" y1="249.5" x2="1350" y2="127" stroke="#e8141e" stroke-width="3"/><path d="M1361.5 112.5 L1343.5 122 L1358 132 Z" fill="#e8141e"/></g><rect x="1645" y="40" width="2" height="1" fill="#000"/><rect x="1645" y="73" width="2" height="1" fill="#000"/><rect x="1645" y="106" width="2" height="1" fill="#000"/><rect x="1645" y="139" width="2" height="1" fill="#000"/><rect x="1645" y="172" width="2" height="1" fill="#000"/><rect x="1645" y="205" width="2" height="1" fill="#000"/><rect x="1645" y="238" width="2" height="1" fill="#000"/><rect x="1645" y="271" width="2" height="1" fill="#000"/><rect x="1645" y="304" width="2" height="1" fill="#000"/><rect x="1645" y="337" width="2" height="1" fill="#000"/><rect x="1645" y="370" width="2" height="1" fill="#000"/><rect x="1645" y="403" width="2" height="1" fill="#000"/><rect x="1645" y="436" width="2" height="1" fill="#000"/><rect x="1645" y="469" width="2" height="1" fill="#000"/><rect x="1645" y="502" width="2" height="1" fill="#000"/><rect x="1645" y="535" width="2" height="1" fill="#000"/><rect x="1645" y="568" width="2" height="1" fill="#000"/><rect x="1645" y="601" width="2" height="1" fill="#000"/><rect x="5" y="822" width="1" height="3" fill="#000"/><rect x="69" y="822" width="1" height="3" fill="#000"/><rect x="133" y="822" width="1" height="3" fill="#000"/><rect x="197" y="822" width="1" height="3" fill="#000"/><rect x="261" y="822" width="1" height="3" fill="#000"/><rect x="325" y="822" width="1" height="3" fill="#000"/><rect x="389" y="822" width="1" height="3" fill="#000"/><rect x="453" y="822" width="1" height="3" fill="#000"/><rect x="517" y="822" width="1" height="3" fill="#000"/><rect x="581" y="822" width="1" height="3" fill="#000"/><rect x="645" y="822" width="1" height="3" fill="#000"/><rect x="709" y="822" width="1" height="3" fill="#000"/><rect x="773" y="822" width="1" height="3" fill="#000"/><rect x="837" y="822" width="1" height="3" fill="#000"/><rect x="901" y="822" width="1" height="3" fill="#000"/><rect x="965" y="822" width="1" height="3" fill="#000"/><rect x="1029" y="822" width="1" height="3" fill="#000"/><rect x="1093" y="822" width="1" height="3" fill="#000"/><rect x="1157" y="822" width="1" height="3" fill="#000"/><rect x="1221" y="822" width="1" height="3" fill="#000"/><rect x="1285" y="822" width="1" height="3" fill="#000"/><rect x="1645" y="607" width="2" height="1" fill="#000"/><rect x="1645" y="683" width="2" height="1" fill="#000"/><rect x="1645" y="717" width="2" height="1" fill="#000"/><rect x="1645" y="721" width="2" height="1" fill="#000"/><rect x="1645" y="820" width="2" height="1" fill="#000"/><g font-family="'Liberation Sans', Arial, sans-serif" font-size="10" letter-spacing="0"><text transform="translate(1650,44) scale(0.923,1)" fill="#000" stroke="#000" stroke-width="0.06">7.02440</text><text transform="translate(1650,77) scale(0.923,1)" fill="#000" stroke="#000" stroke-width="0.06">7.01590</text><text transform="translate(1650,110) scale(0.923,1)" fill="#000" stroke="#000" stroke-width="0.06">7.00740</text><text transform="translate(1650,143) scale(0.923,1)" fill="#000" stroke="#000" stroke-width="0.06">6.99890</text><text transform="translate(1650,176) scale(0.923,1)" fill="#000" stroke="#000" stroke-width="0.06">6.99040</text><text transform="translate(1650,209) scale(0.923,1)" fill="#000" stroke="#000" stroke-width="0.06">6.98190</text><text transform="translate(1650,242) scale(0.923,1)" fill="#000" stroke="#000" stroke-width="0.06">6.97340</text><text transform="translate(1650,275) scale(0.923,1)" fill="#000" stroke="#000" stroke-width="0.06">6.96465</text><text transform="translate(1650,308) scale(0.923,1)" fill="#000" stroke="#000" stroke-width="0.06">6.95615</text><text transform="translate(1650,341) scale(0.923,1)" fill="#000" stroke="#000" stroke-width="0.06">6.94765</text><text transform="translate(1650,374) scale(0.923,1)" fill="#000" stroke="#000" stroke-width="0.06">6.93915</text><text transform="translate(1650,407) scale(0.923,1)" fill="#000" stroke="#000" stroke-width="0.06">6.93065</text><text transform="translate(1650,440) scale(0.923,1)" fill="#000" stroke="#000" stroke-width="0.06">6.92215</text><text transform="translate(1650,473) scale(0.923,1)" fill="#000" stroke="#000" stroke-width="0.06">6.91365</text><text transform="translate(1650,506) scale(0.923,1)" fill="#000" stroke="#000" stroke-width="0.06">6.90515</text><text transform="translate(1650,539) scale(0.923,1)" fill="#000" stroke="#000" stroke-width="0.06">6.89665</text><text transform="translate(1650,572) scale(0.923,1)" fill="#000" stroke="#000" stroke-width="0.06">6.88815</text><text transform="translate(1650,605) scale(0.923,1)" fill="#000" stroke="#000" stroke-width="0.06">6.87965</text><text transform="translate(4,834) scale(0.964,1)" fill="#000" stroke="#000" stroke-width="0.06">29 Aug 2022</text><text transform="translate(68,834) scale(0.964,1)" fill="#000" stroke="#000" stroke-width="0.06">29 Aug 16:00</text><text transform="translate(132,834) scale(0.964,1)" fill="#000" stroke="#000" stroke-width="0.06">30 Aug 08:00</text><text transform="translate(196,834) scale(0.964,1)" fill="#000" stroke="#000" stroke-width="0.06">31 Aug 00:00</text><text transform="translate(260,834) scale(0.964,1)" fill="#000" stroke="#000" stroke-width="0.06">31 Aug 16:00</text><text transform="translate(324,834) scale(0.932,1)" fill="#000" stroke="#000" stroke-width="0.06">1 Sep 08:00</text><text transform="translate(388,834) scale(0.932,1)" fill="#000" stroke="#000" stroke-width="0.06">2 Sep 00:00</text><text transform="translate(452,834) scale(0.932,1)" fill="#000" stroke="#000" stroke-width="0.06">2 Sep 16:00</text><text transform="translate(516,834) scale(0.932,1)" fill="#000" stroke="#000" stroke-width="0.06">5 Sep 12:00</text><text transform="translate(580,834) scale(0.932,1)" fill="#000" stroke="#000" stroke-width="0.06">6 Sep 04:00</text><text transform="translate(644,834) scale(0.932,1)" fill="#000" stroke="#000" stroke-width="0.06">6 Sep 20:00</text><text transform="translate(708,834) scale(0.932,1)" fill="#000" stroke="#000" stroke-width="0.06">7 Sep 12:00</text><text transform="translate(772,834) scale(0.932,1)" fill="#000" stroke="#000" stroke-width="0.06">8 Sep 04:00</text><text transform="translate(836,834) scale(0.932,1)" fill="#000" stroke="#000" stroke-width="0.06">8 Sep 20:00</text><text transform="translate(900,834) scale(0.932,1)" fill="#000" stroke="#000" stroke-width="0.06">9 Sep 12:00</text><text transform="translate(964,834) scale(0.932,1)" fill="#000" stroke="#000" stroke-width="0.06">12 Sep 08:00</text><text transform="translate(1028,834) scale(0.932,1)" fill="#000" stroke="#000" stroke-width="0.06">13 Sep 00:00</text><text transform="translate(1092,834) scale(0.932,1)" fill="#000" stroke="#000" stroke-width="0.06">13 Sep 16:00</text><text transform="translate(1156,834) scale(0.932,1)" fill="#000" stroke="#000" stroke-width="0.06">14 Sep 08:00</text><text transform="translate(1220,834) scale(0.932,1)" fill="#000" stroke="#000" stroke-width="0.06">15 Sep 00:00</text><text transform="translate(1284,834) scale(0.932,1)" fill="#000" stroke="#000" stroke-width="0.06">15 Sep 16:00</text><text transform="translate(1648,617) scale(0.92,1)" fill="#000" stroke="#000" stroke-width="0.06">0.021062</text><text transform="translate(1648,687) scale(0.92,1)" fill="#000" stroke="#000" stroke-width="0.06">0.00</text><text transform="translate(1648,715) scale(0.92,1)" fill="#000" stroke="#000" stroke-width="0.06">-0.009533</text><text transform="translate(1648,731) scale(0.92,1)" fill="#000" stroke="#000" stroke-width="0.06">100</text><text transform="translate(1647,745) scale(0.92,1)" fill="#000" stroke="#000" stroke-width="0.06">80</text><text transform="translate(1647,775) scale(0.92,1)" fill="#000" stroke="#000" stroke-width="0.06">50</text><text transform="translate(1647,810) scale(0.92,1)" fill="#000" stroke="#000" stroke-width="0.06">15</text><text transform="translate(1648,818) scale(0.92,1)" fill="#000" stroke="#000" stroke-width="0.06">0</text><text transform="translate(9,619) scale(0.942,1)" fill="#000" stroke="#000" stroke-width="0.06">MACD(12,26,9) 0.016499 0.011264</text><text transform="translate(9,733) scale(0.935,1)" fill="#000" stroke="#000" stroke-width="0.06">RSI(14) 69.8744</text></g><path d="M8 28.5 L15 28.5 L11.5 33 Z" fill="#000" shape-rendering="geometricPrecision"/><rect x="1646" y="22" width="41" height="11" fill="#ff0000"/><rect x="1646" y="55" width="41" height="11" fill="#ff0000"/><rect x="1646" y="94" width="41" height="11" fill="#000000"/><rect x="1646" y="111" width="41" height="11" fill="#ffa500"/><rect x="1646" y="147" width="41" height="11" fill="#0000ff"/><rect x="1646" y="178" width="41" height="11" fill="#0000ff"/><g font-family="'Liberation Sans', Arial, sans-serif" font-size="10" letter-spacing="0"><text transform="translate(1650,31) scale(0.923,1)" fill="#fff" stroke="#fff" stroke-width="0.06">7.02741</text><text transform="translate(1650,64) scale(0.923,1)" fill="#fff" stroke="#fff" stroke-width="0.06">7.01911</text><text transform="translate(1650,103) scale(0.923,1)" fill="#fff" stroke="#fff" stroke-width="0.06">7.00910</text><text transform="translate(1650,120) scale(0.923,1)" fill="#fff" stroke="#fff" stroke-width="0.06">7.00457</text><text transform="translate(1650,156) scale(0.923,1)" fill="#fff" stroke="#fff" stroke-width="0.06">6.99536</text><text transform="translate(1650,187) scale(0.923,1)" fill="#fff" stroke="#fff" stroke-width="0.06">6.98712</text></g></svg>
</body></html>
